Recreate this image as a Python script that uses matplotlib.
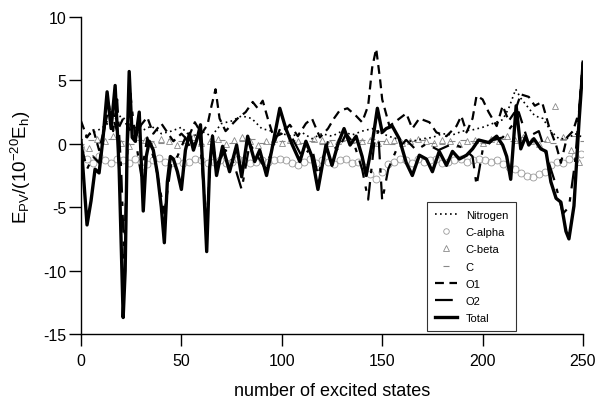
import numpy as np
import matplotlib
matplotlib.use("Agg")
import matplotlib.pyplot as plt
from matplotlib.lines import Line2D

plt.rcParams['font.family'] = ['Liberation Sans', 'DejaVu Sans']
plt.rcParams['mathtext.fontset'] = 'custom'
plt.rcParams['mathtext.rm'] = 'Liberation Sans'
plt.rcParams['mathtext.it'] = 'Liberation Sans'
plt.rcParams['axes.unicode_minus'] = False

# ---------------- data ----------------
total_x = [0, 1, 3, 5, 7, 9, 11, 13, 15, 17, 19, 21, 22, 23, 24, 25.5, 27, 29, 31, 32.5,
           34, 36, 38, 40, 41.5, 43, 44.5, 46, 48, 50, 52, 54, 56, 58, 59.5, 61, 62.6, 64,
           65.5, 67.5, 70.5, 74, 77.5, 80, 83, 86.5, 89, 92.4, 95, 99, 102, 105, 109, 112,
           115, 118, 122, 125, 128, 131, 134, 137, 140, 142, 145, 147.6, 150, 152, 155,
           158.5, 162, 165, 168.5, 172, 175, 178.4, 182, 185, 188.4, 192, 195, 198, 203,
           207, 210, 212, 214, 216.7, 219, 221.5, 223, 225.5, 229, 231.6, 234, 236.6, 239,
           241.5, 243, 245.5, 248, 250]
total_y = [0.2, -2, -6.4, -4.5, -2.0, -2.3, 0.5, 4.1, 1.2, 4.6, -2, -13.7, -10, 0, 5.7, 0.5,
           0.2, 2.5, -5.3, -1, 0.2, -0.5, -2.3, -5, -7.8, -3, -1, -1.2, -2.2, -3.6, -0.5,
           0.8, -0.5, 0.5, 1.5, -3, -8.5, -2, 0.6, -2.5, -0.2, -2.2, -0.1, -2.6, 0.6, -1.4,
           -0.5, -2.5, -0.5, 2.8, 1.2, 0, -1.4, 0.2, -1, -3.6, -0.1, -1.7, 0, 1.2, -0.1, 0.6,
           -1, -2.5, 0, 2.8, 0.9, 1.2, 1.4, 0.4, -1.5, -2.5, -0.9, -1.2, -2.2, -0.6, -1.7,
           -0.6, -1.2, -0.9, -0.4, 0.3, 0.1, 0.6, -0.1, -1, -2.8, 3.0, -0.4, 0.6, -0.1, 0.4,
           -0.4, -0.6, -3.0, -4.3, -4.6, -6.9, -7.5, -4.9, 1.7, 6.3]

nitrogen_x = [0, 5, 10, 15, 20, 25, 30, 35, 40, 45, 50, 55, 60, 65, 70, 75, 80, 85, 90, 95,
              100, 105, 110, 115, 120, 125, 130, 135, 140, 145, 150, 155, 160, 165, 170,
              175, 180, 185, 190, 195, 200, 205, 210, 213, 216.5, 219, 223, 226, 230, 234,
              238, 242, 246, 250]
nitrogen_y = [0.3, 0.8, 1.2, 1.8, 2.2, 1.5, 1.0, 1.4, 0.8, 1.0, 1.3, 0.5, 1.0, 0.6, 1.6,
              1.8, 2.2, 2.0, 1.2, 1.0, 0.8, 0.6, 0.9, 0.4, 0.8, 0.6, 1.0, 0.7, 1.0, 1.2, 0.8,
              0.5, 0.3, 0.2, 0.4, 0.5, 0.8, 0.7, 1.0, 1.1, 1.3, 1.6, 1.9, 2.8, 4.3, 3.6, 2.8,
              2.2, 2.0, 1.0, 0.4, 0.4, 0.8, 0.5]

calpha_x = list(range(0, 250, 3))
calpha_y = [-0.5, -1.2, -1.5, -1.0, -1.3, -1.5, -1.2,
            -1.3, -1.5, -1.2, -1.4, -1.6, -1.3, -1.1, -1.4, -1.5,
            -1.3, -1.5, -1.4, -1.2, -1.3, -1.5, -1.4, -1.3, -1.5, -1.4, -1.2, -1.3, -1.5,
            -1.4, -1.3, -1.4, -1.3, -1.2,
            -1.3, -1.5, -1.7, -1.4, -1.2, -1.5, -1.3, -1.4, -1.6, -1.3, -1.2, -1.5, -1.4,
            -1.8, -2.4,
            -2.8, -2.2, -1.6, -1.4, -1.2, -1.3, -1.5, -1.2, -1.4, -1.3, -1.2, -1.5, -1.4,
            -1.3, -1.2, -1.4, -1.3, -1.2,
            -1.3, -1.4, -1.3, -1.6, -1.8, -2.0, -2.3, -2.5, -2.6, -2.4, -2.2, -1.7, -1.4,
            -1.5, -1.2, -1.0, -0.8]

cbeta_x = list(range(0, 252, 4))
cbeta_y = [0.0, -0.3, 0.4, 0.2, 0.6, 0.1, -0.2, 0.5, 0.3, 0.0, 0.4, 0.2, -0.1, 0.3, 0.5,
           0.1, 0.2, 0.4, 0.0, 0.3, 0.5, 0.2, -0.1, 0.2, 0.4, 0.1, 0.3, 0.2, 0.0, 0.4,
           0.3, 0.1, 0.2, 0.5, 0.4, 0.2, 0.3, 0.1, 0.2, 0.3, 0.1, 0.2, 0.4, 0.2, 0.1, 0.3,
           0.2, 0.0, 0.2, 0.3, 0.1, 0.4, 0.2, 0.6, 0.3, 0.5, 0.2, 0.0, 0.4, 3.0, 0.5, -0.5,
           -1.4]

c_x = list(range(0, 251, 5))
c_y = [0.0, 0.3, 0.1, 0.4, 0.2, 0.0, 0.3, 0.2, 0.1, 0.4, 0.2, 0.3, 0.0, 0.2, 0.3, 0.1,
       0.2, 0.4, 0.1, 0.0, 0.2, 0.3, 0.1, 0.2, 0.0, 0.3, 0.2, 0.1, 0.3, 0.4, 0.2, 0.0,
       0.1, 0.2, 0.3, 0.1, 0.0, 0.2, 0.3, 0.2, 0.1, 0.3, 0.4, 0.2, 0.5, 0.3, 0.2, 0.1,
       0.4, 0.6, 0.2]

o1_x = [0, 3, 6, 9, 12, 15, 18, 21, 24, 27, 30, 33, 36, 40, 43, 46, 50, 53, 56.7, 60, 63,
        65, 67, 69, 72, 75, 78, 82, 85.5, 88, 90.5, 93, 96, 100, 104, 108, 112, 115, 119,
        123, 126, 128.7, 132.7, 137, 140, 143, 145, 147, 149, 150, 153.6, 157, 162, 165,
        168.5, 173.5, 177, 182, 187, 189.4, 192, 195, 197, 200, 203, 207, 210, 213, 216,
        219, 223, 226, 229.6, 233, 236.6, 239, 242, 245, 248, 250]
o1_y = [1.8, 0.5, 1.2, -0.5, 1.5, 2.5, 1.0, 2.0, 1.2, 0.5, 1.5, 2.1, 0.8, 1.6, 0.9, 0.2,
        0.8, 0.3, 1.7, 0.8, 1.5, 3.0, 4.3, 2.0, 1.0, 1.5, 2.0, 2.5, 3.3, 2.8, 3.4, 2.0,
        0.5, 0.8, 1.5, 0.6, 1.6, 2.0, 0.5, 1.2, 2.0, 2.6, 2.8, 2.2, 1.7, 3.0, 6.0, 7.5,
        5.0, 3.5, 1.4, 1.8, 2.4, 1.2, 2.0, 1.7, 0.9, 0.6, 1.4, 2.2, 0.9, 2.0, 3.8, 3.5,
        2.5, 1.4, 3.0, 1.8, 2.5, 3.9, 3.7, 3.0, 3.3, 1.4, -0.1, -1.5, 0.5, 1.0, 2.5, 6.8]

o2_x = [0, 3, 6, 9, 12, 14, 16, 18, 20, 21.5, 23, 24.5, 27, 30, 33, 37, 41.5, 45, 48, 52,
        55, 59, 62.5, 65, 68, 72, 76, 80, 84, 88, 92, 96, 100, 105, 110, 115, 118, 123,
        128, 132, 136, 140, 143, 146, 148, 150, 153, 157, 162, 167, 172, 178, 185, 190,
        195, 197, 200, 205, 210, 215, 218, 222, 228, 232, 236, 240, 243, 246, 250]
o2_y = [0, -2, -1, -1.5, 1.5, 3.0, 1.0, 3.5, -2, -9, -1, 4.0, 0.5, -2.5, 0.5, -1.5, -5.5,
        -1.5, -1.0, 0.5, -0.5, 1.0, -6.5, 0.0, -1.5, -0.5, -1.5, -3.6, 0.0, -1.0, -2.0,
        0.0, 1.5, 0.5, -1.0, -0.3, -2.5, 0.2, -0.5, 0.8, 0.0, -2.0, -4.4, 0.0, 1.0, -4.5,
        -2.0, -0.5, 0.3, -0.5, 0.0, -0.5, 0.0, -0.3, -1.0, -3.3, -0.5, 0.3, 0.5, 1.5, 2.5,
        0.5, 1.0, -1.0, -3.0, -5.5, -5.0, -1.5, 6.5]

x_ticks = [0, 50, 100, 150, 200, 250]
y_ticks = [10, 5, 0, -5, -10, -15]

# ---------------- figure ----------------
fig = plt.figure(figsize=(5.98, 4.02), dpi=100)
ax = fig.add_axes([81/598, 1 - 335/402, 502/598, 317/402])

ax.plot(calpha_x, calpha_y, linestyle='none', marker='o', markersize=5,
        markerfacecolor='none', markeredgecolor='#9a9a9a', markeredgewidth=0.6,
        label='C-alpha')
ax.plot(cbeta_x, cbeta_y, linestyle='none', marker='^', markersize=5,
        markerfacecolor='none', markeredgecolor='#8a8a8a', markeredgewidth=0.6,
        label='C-beta')
ax.plot(c_x, c_y, linestyle='none', marker='_', markersize=4,
        markeredgecolor='#888888', markeredgewidth=0.8, label='C')
ax.plot(nitrogen_x, nitrogen_y, color='black', linestyle=(0, (1, 2)), linewidth=1.2,
        label='Nitrogen')
ax.plot(o1_x, o1_y, color='black', linestyle=(0, (4, 2.5)), linewidth=1.6, label='O1')
ax.plot(o2_x, o2_y, color='black', linestyle=(0, (8, 4, 2, 4)), linewidth=1.6, label='O2')
ax.plot(total_x, total_y, color='black', linewidth=2.4, label='Total')

ax.set_xlim(0, 250)
ax.set_ylim(-15, 10)
ax.set_xticks(x_ticks)
ax.set_yticks(y_ticks)
for s in ['top', 'right']:
    ax.spines[s].set_visible(False)
for s in ['left', 'bottom']:
    ax.spines[s].set_linewidth(1.0)
ax.tick_params(direction='out', length=8.5, width=1.0, labelsize=11.5)
ax.tick_params(axis='x', pad=5)
ax.tick_params(axis='y', pad=2)

ax.set_xlabel('number of excited states', fontsize=13, labelpad=10)
ax.set_ylabel(r'E$_{\rm PV}$/(10$^{-20}$E$_{\rm h}$)', fontsize=13.5)
ax.yaxis.set_label_coords(-0.095, 0.53)

handles = [
    Line2D([], [], color='black', linestyle=(0, (1, 2)), linewidth=1.2),
    Line2D([], [], linestyle='none', marker='o', markersize=4, markerfacecolor='none',
           markeredgecolor='#9a9a9a', markeredgewidth=0.6),
    Line2D([], [], linestyle='none', marker='^', markersize=4, markerfacecolor='none',
           markeredgecolor='#8a8a8a', markeredgewidth=0.6),
    Line2D([], [], linestyle='none', marker='_', markersize=4, markeredgecolor='#888888',
           markeredgewidth=0.8),
    Line2D([], [], color='black', linestyle=(0, (4, 2.5)), linewidth=1.6),
    Line2D([], [], color='black', linestyle=(0, (8, 4, 2, 4)), linewidth=1.6),
    Line2D([], [], color='black', linewidth=2.4),
]
labels = ['Nitrogen', 'C-alpha', 'C-beta', 'C', 'O1', 'O2', 'Total']
leg = ax.legend(handles, labels, loc='lower left', bbox_to_anchor=(0.689, 0.0095),
                fontsize=8, frameon=True, fancybox=False, edgecolor='black',
                handlelength=2.0, handletextpad=0.8, labelspacing=0.65, borderpad=0.7,
                borderaxespad=0)
leg.get_frame().set_linewidth(0.8)

fig.savefig('out.png', dpi=100)
